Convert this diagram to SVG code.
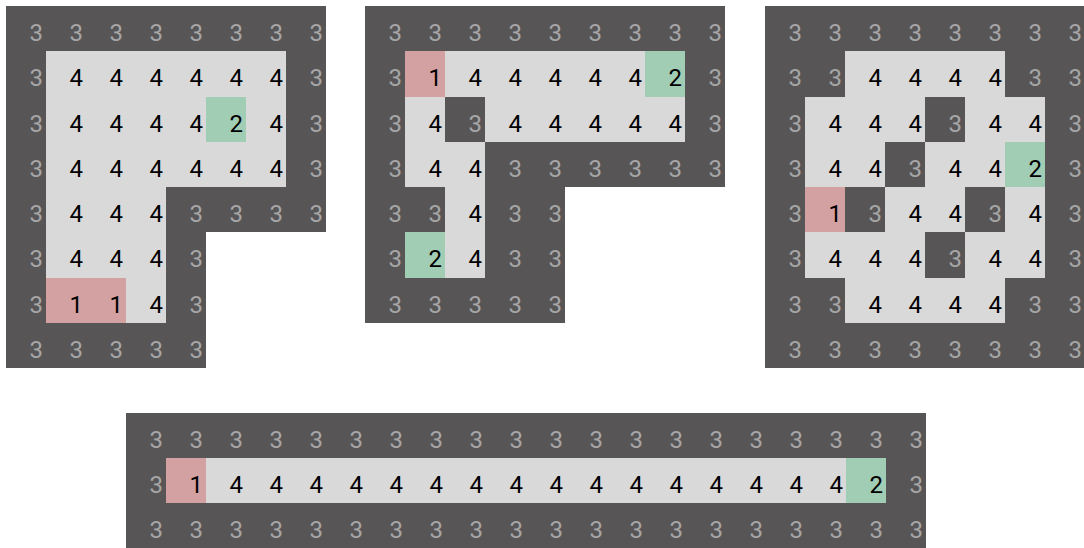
<svg xmlns="http://www.w3.org/2000/svg" width="1084" height="548" viewBox="0 0 1084 548">
<style>
.bg{fill:#ffffff}
.dk{fill:#585557}
.lt{fill:#d9d9d9}
.pk{fill:#d3a1a1}
.gn{fill:#a2cdb5}
rect,polygon{shape-rendering:crispEdges}
text{font-family:Roboto,"Liberation Sans",sans-serif;font-size:24px;text-anchor:end}
.d{fill:#a6a6a6}
.n{fill:#000000}
</style>
<rect class="bg" x="0" y="0" width="1084" height="548"/>
<g id="grid1" transform="translate(6,6)">
<polygon class="dk" points="0,0 320,0 320,226.25 200,226.25 200,362 0,362"/>
<rect class="lt" x="40" y="45.25" width="240" height="135.75"/>
<rect class="lt" x="40" y="181" width="120" height="135.75"/>
<rect class="pk" x="40" y="271.5" width="80" height="45.25"/>
<rect class="gn" x="200" y="90.5" width="40" height="45.25"/>
<text class="d" x="37" y="35">3</text><text class="d" x="77" y="35">3</text><text class="d" x="117" y="35">3</text><text class="d" x="157" y="35">3</text><text class="d" x="197" y="35">3</text><text class="d" x="237" y="35">3</text><text class="d" x="277" y="35">3</text><text class="d" x="317" y="35">3</text>
<text class="d" x="37" y="80.25">3</text><text class="n" x="77" y="80.25">4</text><text class="n" x="117" y="80.25">4</text><text class="n" x="157" y="80.25">4</text><text class="n" x="197" y="80.25">4</text><text class="n" x="237" y="80.25">4</text><text class="n" x="277" y="80.25">4</text><text class="d" x="317" y="80.25">3</text>
<text class="d" x="37" y="125.5">3</text><text class="n" x="77" y="125.5">4</text><text class="n" x="117" y="125.5">4</text><text class="n" x="157" y="125.5">4</text><text class="n" x="197" y="125.5">4</text><text class="n" x="237" y="125.5">2</text><text class="n" x="277" y="125.5">4</text><text class="d" x="317" y="125.5">3</text>
<text class="d" x="37" y="170.75">3</text><text class="n" x="77" y="170.75">4</text><text class="n" x="117" y="170.75">4</text><text class="n" x="157" y="170.75">4</text><text class="n" x="197" y="170.75">4</text><text class="n" x="237" y="170.75">4</text><text class="n" x="277" y="170.75">4</text><text class="d" x="317" y="170.75">3</text>
<text class="d" x="37" y="216">3</text><text class="n" x="77" y="216">4</text><text class="n" x="117" y="216">4</text><text class="n" x="157" y="216">4</text><text class="d" x="197" y="216">3</text><text class="d" x="237" y="216">3</text><text class="d" x="277" y="216">3</text><text class="d" x="317" y="216">3</text>
<text class="d" x="37" y="261.25">3</text><text class="n" x="77" y="261.25">4</text><text class="n" x="117" y="261.25">4</text><text class="n" x="157" y="261.25">4</text><text class="d" x="197" y="261.25">3</text>
<text class="d" x="37" y="306.5">3</text><text class="n" x="77" y="306.5">1</text><text class="n" x="117" y="306.5">1</text><text class="n" x="157" y="306.5">4</text><text class="d" x="197" y="306.5">3</text>
<text class="d" x="37" y="351.75">3</text><text class="d" x="77" y="351.75">3</text><text class="d" x="117" y="351.75">3</text><text class="d" x="157" y="351.75">3</text><text class="d" x="197" y="351.75">3</text>
</g>
<g id="grid2" transform="translate(365,6)">
<polygon class="dk" points="0,0 360,0 360,181 200,181 200,316.75 0,316.75"/>
<rect class="lt" x="40" y="45.25" width="280" height="45.25"/>
<rect class="lt" x="40" y="90.5" width="40" height="45.25"/>
<rect class="lt" x="120" y="90.5" width="200" height="45.25"/>
<rect class="lt" x="40" y="135.75" width="80" height="45.25"/>
<rect class="lt" x="80" y="181" width="40" height="90.5"/>
<rect class="pk" x="40" y="45.25" width="40" height="45.25"/>
<rect class="gn" x="280" y="45.25" width="40" height="45.25"/>
<rect class="gn" x="40" y="226.25" width="40" height="45.25"/>
<text class="d" x="37" y="35">3</text><text class="d" x="77" y="35">3</text><text class="d" x="117" y="35">3</text><text class="d" x="157" y="35">3</text><text class="d" x="197" y="35">3</text><text class="d" x="237" y="35">3</text><text class="d" x="277" y="35">3</text><text class="d" x="317" y="35">3</text><text class="d" x="357" y="35">3</text>
<text class="d" x="37" y="80.25">3</text><text class="n" x="77" y="80.25">1</text><text class="n" x="117" y="80.25">4</text><text class="n" x="157" y="80.25">4</text><text class="n" x="197" y="80.25">4</text><text class="n" x="237" y="80.25">4</text><text class="n" x="277" y="80.25">4</text><text class="n" x="317" y="80.25">2</text><text class="d" x="357" y="80.25">3</text>
<text class="d" x="37" y="125.5">3</text><text class="n" x="77" y="125.5">4</text><text class="d" x="117" y="125.5">3</text><text class="n" x="157" y="125.5">4</text><text class="n" x="197" y="125.5">4</text><text class="n" x="237" y="125.5">4</text><text class="n" x="277" y="125.5">4</text><text class="n" x="317" y="125.5">4</text><text class="d" x="357" y="125.5">3</text>
<text class="d" x="37" y="170.75">3</text><text class="n" x="77" y="170.75">4</text><text class="n" x="117" y="170.75">4</text><text class="d" x="157" y="170.75">3</text><text class="d" x="197" y="170.75">3</text><text class="d" x="237" y="170.75">3</text><text class="d" x="277" y="170.75">3</text><text class="d" x="317" y="170.75">3</text><text class="d" x="357" y="170.75">3</text>
<text class="d" x="37" y="216">3</text><text class="d" x="77" y="216">3</text><text class="n" x="117" y="216">4</text><text class="d" x="157" y="216">3</text><text class="d" x="197" y="216">3</text>
<text class="d" x="37" y="261.25">3</text><text class="n" x="77" y="261.25">2</text><text class="n" x="117" y="261.25">4</text><text class="d" x="157" y="261.25">3</text><text class="d" x="197" y="261.25">3</text>
<text class="d" x="37" y="306.5">3</text><text class="d" x="77" y="306.5">3</text><text class="d" x="117" y="306.5">3</text><text class="d" x="157" y="306.5">3</text><text class="d" x="197" y="306.5">3</text>
</g>
<g id="grid3" transform="translate(765,6)">
<rect class="dk" x="0" y="0" width="320" height="362"/>
<rect class="lt" x="80" y="45.25" width="160" height="45.25"/>
<rect class="lt" x="40" y="90.5" width="240" height="181"/>
<rect class="lt" x="80" y="271.5" width="160" height="45.25"/>
<rect class="dk" x="160" y="90.5" width="40" height="45.25"/>
<rect class="dk" x="120" y="135.75" width="40" height="45.25"/>
<rect class="dk" x="80" y="181" width="40" height="45.25"/>
<rect class="dk" x="200" y="181" width="40" height="45.25"/>
<rect class="dk" x="160" y="226.25" width="40" height="45.25"/>
<rect class="pk" x="40" y="181" width="40" height="45.25"/>
<rect class="gn" x="240" y="135.75" width="40" height="45.25"/>
<text class="d" x="37" y="35">3</text><text class="d" x="77" y="35">3</text><text class="d" x="117" y="35">3</text><text class="d" x="157" y="35">3</text><text class="d" x="197" y="35">3</text><text class="d" x="237" y="35">3</text><text class="d" x="277" y="35">3</text><text class="d" x="317" y="35">3</text>
<text class="d" x="37" y="80.25">3</text><text class="d" x="77" y="80.25">3</text><text class="n" x="117" y="80.25">4</text><text class="n" x="157" y="80.25">4</text><text class="n" x="197" y="80.25">4</text><text class="n" x="237" y="80.25">4</text><text class="d" x="277" y="80.25">3</text><text class="d" x="317" y="80.25">3</text>
<text class="d" x="37" y="125.5">3</text><text class="n" x="77" y="125.5">4</text><text class="n" x="117" y="125.5">4</text><text class="n" x="157" y="125.5">4</text><text class="d" x="197" y="125.5">3</text><text class="n" x="237" y="125.5">4</text><text class="n" x="277" y="125.5">4</text><text class="d" x="317" y="125.5">3</text>
<text class="d" x="37" y="170.75">3</text><text class="n" x="77" y="170.75">4</text><text class="n" x="117" y="170.75">4</text><text class="d" x="157" y="170.75">3</text><text class="n" x="197" y="170.75">4</text><text class="n" x="237" y="170.75">4</text><text class="n" x="277" y="170.75">2</text><text class="d" x="317" y="170.75">3</text>
<text class="d" x="37" y="216">3</text><text class="n" x="77" y="216">1</text><text class="d" x="117" y="216">3</text><text class="n" x="157" y="216">4</text><text class="n" x="197" y="216">4</text><text class="d" x="237" y="216">3</text><text class="n" x="277" y="216">4</text><text class="d" x="317" y="216">3</text>
<text class="d" x="37" y="261.25">3</text><text class="n" x="77" y="261.25">4</text><text class="n" x="117" y="261.25">4</text><text class="n" x="157" y="261.25">4</text><text class="d" x="197" y="261.25">3</text><text class="n" x="237" y="261.25">4</text><text class="n" x="277" y="261.25">4</text><text class="d" x="317" y="261.25">3</text>
<text class="d" x="37" y="306.5">3</text><text class="d" x="77" y="306.5">3</text><text class="n" x="117" y="306.5">4</text><text class="n" x="157" y="306.5">4</text><text class="n" x="197" y="306.5">4</text><text class="n" x="237" y="306.5">4</text><text class="d" x="277" y="306.5">3</text><text class="d" x="317" y="306.5">3</text>
<text class="d" x="37" y="351.75">3</text><text class="d" x="77" y="351.75">3</text><text class="d" x="117" y="351.75">3</text><text class="d" x="157" y="351.75">3</text><text class="d" x="197" y="351.75">3</text><text class="d" x="237" y="351.75">3</text><text class="d" x="277" y="351.75">3</text><text class="d" x="317" y="351.75">3</text>
</g>
<g id="grid4" transform="translate(126,412.75)">
<rect class="dk" x="0" y="0" width="800" height="136"/>
<rect class="lt" x="40" y="45.25" width="720" height="45.25"/>
<rect class="pk" x="40" y="45.25" width="40" height="45.25"/>
<rect class="gn" x="720" y="45.25" width="40" height="45.25"/>
<text class="d" x="37" y="35">3</text><text class="d" x="77" y="35">3</text><text class="d" x="117" y="35">3</text><text class="d" x="157" y="35">3</text><text class="d" x="197" y="35">3</text><text class="d" x="237" y="35">3</text><text class="d" x="277" y="35">3</text><text class="d" x="317" y="35">3</text><text class="d" x="357" y="35">3</text><text class="d" x="397" y="35">3</text><text class="d" x="437" y="35">3</text><text class="d" x="477" y="35">3</text><text class="d" x="517" y="35">3</text><text class="d" x="557" y="35">3</text><text class="d" x="597" y="35">3</text><text class="d" x="637" y="35">3</text><text class="d" x="677" y="35">3</text><text class="d" x="717" y="35">3</text><text class="d" x="757" y="35">3</text><text class="d" x="797" y="35">3</text>
<text class="d" x="37" y="80.25">3</text><text class="n" x="77" y="80.25">1</text><text class="n" x="117" y="80.25">4</text><text class="n" x="157" y="80.25">4</text><text class="n" x="197" y="80.25">4</text><text class="n" x="237" y="80.25">4</text><text class="n" x="277" y="80.25">4</text><text class="n" x="317" y="80.25">4</text><text class="n" x="357" y="80.25">4</text><text class="n" x="397" y="80.25">4</text><text class="n" x="437" y="80.25">4</text><text class="n" x="477" y="80.25">4</text><text class="n" x="517" y="80.25">4</text><text class="n" x="557" y="80.25">4</text><text class="n" x="597" y="80.25">4</text><text class="n" x="637" y="80.25">4</text><text class="n" x="677" y="80.25">4</text><text class="n" x="717" y="80.25">4</text><text class="n" x="757" y="80.25">2</text><text class="d" x="797" y="80.25">3</text>
<text class="d" x="37" y="125.5">3</text><text class="d" x="77" y="125.5">3</text><text class="d" x="117" y="125.5">3</text><text class="d" x="157" y="125.5">3</text><text class="d" x="197" y="125.5">3</text><text class="d" x="237" y="125.5">3</text><text class="d" x="277" y="125.5">3</text><text class="d" x="317" y="125.5">3</text><text class="d" x="357" y="125.5">3</text><text class="d" x="397" y="125.5">3</text><text class="d" x="437" y="125.5">3</text><text class="d" x="477" y="125.5">3</text><text class="d" x="517" y="125.5">3</text><text class="d" x="557" y="125.5">3</text><text class="d" x="597" y="125.5">3</text><text class="d" x="637" y="125.5">3</text><text class="d" x="677" y="125.5">3</text><text class="d" x="717" y="125.5">3</text><text class="d" x="757" y="125.5">3</text><text class="d" x="797" y="125.5">3</text>
</g>
</svg>
